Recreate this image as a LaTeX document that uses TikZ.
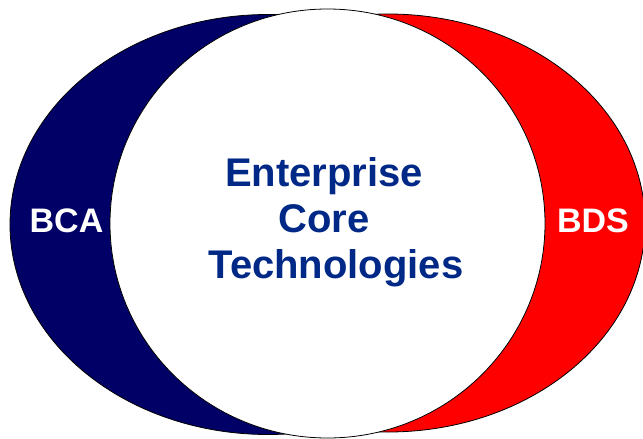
\documentclass[tikz,border=0pt]{standalone}
\usepackage{fontspec}
\setmainfont{Liberation Sans}
\usetikzlibrary{shapes.geometric}
\definecolor{navyfill}{RGB}{0,0,102}
\definecolor{redfill}{RGB}{255,0,0}
\definecolor{textblue}{RGB}{0,40,135}
\tikzset{
  lens/.style={ellipse, draw=black, line width=0.6pt, inner sep=0pt, outer sep=0pt},
  sidelabel/.style={text=white, font=\fontsize{25.5}{28}\selectfont\bfseries, inner sep=0pt, anchor=base},
  coretext/.style={text=textblue, font=\fontsize{30}{34.5}\selectfont\bfseries, align=center, inner sep=0pt}
}
\begin{document}
\begin{tikzpicture}[x=0.75pt, y=-0.75pt]
\useasboundingbox (0,0) rectangle (643,439);
\clip (0,0) rectangle (643,439);
\node[lens, fill=navyfill, minimum width=387pt, minimum height=315pt] (bcaell) at (268,224.5) {};
\node[lens, fill=redfill, minimum width=385.5pt, minimum height=313.5pt] (bdsell) at (388,223) {};
\node[lens, fill=white, minimum width=326.25pt, minimum height=321.75pt] (coreell) at (327.5,223.5) {};
\node[sidelabel] (bca) at (66.5,232) {BCA};
\node[sidelabel] (bds) at (593,232) {BDS};
\node[coretext] (core) at (324,222) {Enterprise\\Core\\\hspace*{18pt}Technologies};
\end{tikzpicture}
\end{document}
